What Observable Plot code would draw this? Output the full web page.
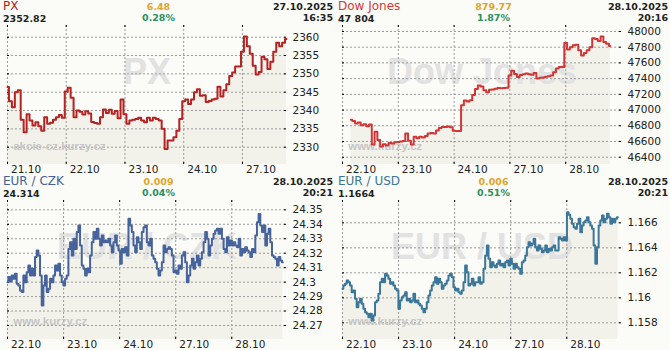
<!DOCTYPE html>
<html><head><meta charset="utf-8">
<script src="https://cdn.jsdelivr.net/npm/d3@7"></script>
<script src="https://cdn.jsdelivr.net/npm/@observablehq/plot@0.6"></script>
<style>
html,body{margin:0;padding:0;background:#fbfbf7;}
#grid{display:grid;grid-template-columns:335px 335px;grid-template-rows:175px 175px;width:670px;height:350px;}
.panel{position:relative;width:335px;height:175px;overflow:hidden;}
.panel svg{position:absolute;left:0;top:0;}
.hd{position:absolute;font-family:"DejaVu Sans";white-space:nowrap;line-height:1;}
.name{left:3px;top:0.4px;font-size:12px;line-height:12px;}
.last{left:3px;top:13.6px;font-size:9.5px;font-weight:bold;color:#222;}
.chg{left:0;width:317px;text-align:center;top:2px;font-size:9.5px;font-weight:bold;color:#e0a42a;}
.pct{left:0;width:317px;text-align:center;top:12.5px;font-size:9.5px;font-weight:bold;color:#2a9060;}
.date{right:2px;top:2px;font-size:9.5px;font-weight:bold;color:#222;}
.time{right:2px;top:12.5px;font-size:9.5px;font-weight:bold;color:#222;}
</style>
</head><body>
<div id="grid"></div>
<script>
// ---- data ----
const pxDays = ["21.10","22.10","23.10","24.10","27.10"];
const fxDays = ["22.10","23.10","24.10","27.10","28.10"];
const pxDayIdx = [0,20,40,60,80];
const djDayIdx = [0,20,40,60,80];
const fxDayIdx = [0,33.6,67.2,100.8,134.4];

const pxTicks = [2330,2335,2340,2345,2350,2355,2360];
const djTicks = [46400,46600,46800,47000,47200,47400,47600,47800,48000];
const czkTicks = [24.27,24.28,24.29,24.3,24.31,24.32,24.33,24.34,24.35];
const usdTicks = [1.158,1.16,1.162,1.164,1.166];

const pxValues = [2346.4,2342.5,2340.9,2345,2345.5,2337.5,2334.1,2339,2337.3,2335.9,
2336.8,2335.7,2334.5,2338.2,2336.4,2336.7,2337.5,2338.2,2338.8,2338,
2345.2,2346.2,2343.5,2338.2,2340,2339.7,2338.9,2339.8,2339.2,2336.9,
2336.6,2336.4,2338.2,2340.3,2339.3,2340.2,2339.1,2339.9,2337.9,2343,
2339,2336.4,2337.3,2337.5,2337.7,2338,2337.3,2336.8,2338,2337.3,
2338,2337.7,2337.3,2335,2329.5,2331.8,2331.8,2332.7,2334.5,2337.7,
2342.5,2343,2341.8,2343,2345,2345.8,2344,2344.2,2342.3,2342.6,
2343,2343.2,2346.5,2343.8,2345.5,2347.2,2349.4,2350.4,2352,2352,
2356,2360.2,2357.5,2355.5,2352.2,2349.8,2350.5,2354.7,2354,2351.3,
2353.3,2356,2358.5,2357.5,2358.5,2359.5];

const djStart = 3;
const djValues = [46875,46860,46830,46840,46805,46820,46795,46815,46560,46725,46620,46535,46565,46550,46582,46575,46590,
46593,46600,46605,46700,46610,46560,46660,46640,46660,46650,46670,46700,46708,46702,46740,46770,46784,46784,46792,46780,
46735,46733,46733,47060,47120,47110,47125,47190,47268,47312,47300,47252,47225,47259,47262,47270,47282,47276,47280,47284,
47441,47500,47460,47420,47445,47455,47465,47455,47450,47470,47400,47410,47415,47425,47430,47440,47480,47530,47547,47547,
47852,47770,47800,47825,47830,47760,47695,47725,47760,47800,47915,47905,47880,47936,47865,47845,47815];

const czkValues = [24.300,24.3035,24.3005,24.3046,24.3023,24.3058,24.2988,24.2977,24.2942,24.2931,
24.3046,24.300,24.3069,24.3115,24.3046,24.3092,24.3046,24.3173,24.3219,24.3184,
24.3046,24.2839,24.2977,24.3046,24.2931,24.2954,24.3023,24.300,24.3046,24.3115,
24.3081,24.3127,24.3046,24.300,24.2977,24.3023,24.3046,24.323,24.3276,24.3184,
24.330,24.323,24.3346,24.3392,24.3253,24.3115,24.3092,24.3046,24.3092,24.3069,
24.3184,24.3276,24.3346,24.330,24.3369,24.330,24.3253,24.3323,24.3276,24.3288,
24.3276,24.330,24.3253,24.3207,24.3276,24.3323,24.3253,24.3219,24.3127,24.323,
24.3207,24.3242,24.3184,24.3438,24.3392,24.3346,24.3253,24.3207,24.3311,24.3276,
24.323,24.3346,24.338,24.3392,24.3276,24.3253,24.330,24.3184,24.3161,24.3138,
24.3092,24.3046,24.3081,24.3138,24.3253,24.3207,24.323,24.3242,24.323,24.3184,
24.3069,24.3081,24.3058,24.3115,24.3092,24.3184,24.3207,24.3138,24.300,24.3046,
24.3115,24.3161,24.3092,24.3138,24.3184,24.3115,24.3161,24.3207,24.3276,24.3346,
24.330,24.3184,24.3253,24.330,24.3334,24.3357,24.3369,24.3334,24.3369,24.330,
24.323,24.3207,24.3311,24.3253,24.3288,24.3253,24.3276,24.3253,24.3242,24.330,
24.3184,24.323,24.3207,24.3242,24.3219,24.3207,24.3173,24.323,24.3207,24.3323,
24.3415,24.3472,24.3392,24.3346,24.3392,24.3253,24.3334,24.3369,24.3276,24.3184,
24.3173,24.3161,24.3115,24.3173,24.315,24.3138];

const usdValues = [1.16072,1.16099,1.16112,1.16139,1.16125,1.16099,1.16045,1.16059,1.15992,1.15925,
1.15965,1.15992,1.15952,1.15912,1.15885,1.15872,1.15845,1.15872,1.15819,1.15859,
1.15965,1.15979,1.16032,1.16125,1.16152,1.16125,1.16192,1.16179,1.16152,1.16112,
1.16125,1.16099,1.16072,1.16059,1.15912,1.15979,1.16005,1.16019,1.16045,1.15979,
1.15992,1.15965,1.15979,1.16032,1.15965,1.15979,1.15952,1.15939,1.15912,1.15885,
1.15912,1.15965,1.16019,1.16059,1.16099,1.16125,1.16165,1.16112,1.16152,1.16125,
1.16072,1.16099,1.16112,1.16139,1.16179,1.16192,1.16165,1.16085,1.16059,1.16072,
1.16045,1.16032,1.16059,1.16125,1.16259,1.16205,1.16099,1.16112,1.16152,1.16099,
1.16125,1.16125,1.16165,1.16112,1.16125,1.16232,1.16339,1.16419,1.16312,1.16245,
1.16285,1.16259,1.16245,1.16272,1.16299,1.16259,1.16272,1.16245,1.16285,1.16299,
1.16259,1.16312,1.16272,1.16232,1.16272,1.16245,1.16232,1.16192,1.16285,1.16299,
1.16339,1.16405,1.16445,1.16419,1.16432,1.16472,1.16405,1.16379,1.16419,1.16392,
1.16365,1.16379,1.16419,1.16365,1.16392,1.16379,1.16405,1.16419,1.16379,1.16379,
1.16485,1.16472,1.16459,1.16485,1.16459,1.16685,1.16664,1.16632,1.16592,1.16565,
1.16552,1.16592,1.16632,1.16525,1.16579,1.16605,1.16619,1.16645,1.16605,1.16579,
1.16552,1.16419,1.16272,1.16405,1.16579,1.16619,1.16659,1.16605,1.16632,1.16672,
1.16645,1.16592,1.16632,1.16605,1.16632,1.16645];

const panels = [
  {name:"PX", nameColor:"#b22222", last:"2352.82", chg:"6.48", pct:"0.28%", date:"27.10.2025", time:"16:35",
   values:pxValues, start:0, xMax:95, xTicks:pxDayIdx, xLabels:pxDays, yTicks:pxTicks, yDomain:[2325.28,2363.19],
   color:"#b52222", mark:"PX", source:"akcie-cz.kurzy.cz"},
  {name:"Dow Jones", nameColor:"#d23a3a", last:"47 804", chg:"879.77", pct:"1.87%", date:"28.10.2025", time:"20:16",
   values:djValues, start:djStart, xMax:100, xTicks:djDayIdx, xLabels:fxDays, yTicks:djTicks, yDomain:[46307,48076],
   color:"#d13636", mark:"Dow Jones", source:"www.kurzy.cz"},
  {name:"EUR / CZK", nameColor:"#44629a", last:"24.314", chg:"0.009", pct:"0.04%", date:"28.10.2025", time:"20:21",
   values:czkValues, start:0, xMax:167.2, xTicks:fxDayIdx, xLabels:fxDays, yTicks:czkTicks, yDomain:[24.26032,24.35646],
   color:"#46639b", mark:"EUR / CZK", source:"www.kurzy.cz"},
  {name:"EUR / USD", nameColor:"#3a7696", last:"1.1664", chg:"0.006", pct:"0.51%", date:"28.10.2025", time:"20:21",
   values:usdValues, start:0, xMax:167.2, xTicks:fxDayIdx, xLabels:fxDays, yTicks:usdTicks, yDomain:[1.156667,1.167787],
   color:"#3b7798", mark:"EUR / USD", source:"www.kurzy.cz"}
];

const grid = document.getElementById("grid");
const grey = "#9a9a9a";
for (const cfg of panels) {
  const data = cfg.values.map((v, k) => ({i: cfg.start + k, v}));
  const yMin = cfg.yDomain[0];
  const svg = Plot.plot({
    width: 335, height: 175,
    marginLeft: 7, marginRight: 49, marginTop: 25, marginBottom: 11,
    x: {domain: [0, cfg.xMax], axis: null, label: null},
    y: {domain: cfg.yDomain, axis: null, label: null},
    style: {background: "transparent", fontFamily: "DejaVu Sans", fontSize: "10.5px", color: "#222", overflow: "visible"},
    marks: [
      Plot.areaY(data, {x: "i", y1: yMin, y2: "v", fill: "#f2f2ea", curve: "step"}),
      Plot.text([cfg.mark], {frameAnchor: "middle", dy: -23, fontSize: 36, fontWeight: "bold", fontFamily: "Liberation Sans", fill: "#e2e2e2"}),
      Plot.ruleX(cfg.xTicks, {stroke: grey, strokeDasharray: "2,2"}),
      Plot.ruleY(cfg.yTicks, {stroke: grey, strokeDasharray: "2,2"}),
      Plot.ruleX(cfg.xTicks, {stroke: "#000", insetBottom: 137}),
      Plot.ruleX(cfg.xTicks, {stroke: "#000", insetTop: 137}),
      Plot.ruleY(cfg.yTicks, {stroke: "#000", insetRight: 277}),
      Plot.ruleY(cfg.yTicks, {stroke: "#000", insetLeft: 277}),
      Plot.text([cfg.source], {frameAnchor: "bottom-left", textAnchor: "start", dx: 5.7, dy: -14.4, fontSize: 11.5, fontWeight: "bold", fontFamily: "Liberation Sans", fill: "#c6c6c6"}),
      Plot.lineY(data, {x: "i", y: "v", stroke: cfg.color, strokeWidth: 2, curve: "step"}),
      Plot.axisY(cfg.yTicks, {anchor: "right", label: null, tickSize: 0, tickPadding: 6, tickFormat: d => String(d), fontSize: 10.5, fill: "#222"}),
      Plot.axisX(cfg.xTicks, {anchor: "bottom", label: null, tickSize: 0, tickPadding: 1, tickFormat: d => cfg.xLabels[cfg.xTicks.indexOf(d)], textAnchor: "start", dx: 3.5, fontSize: 10.5, fill: "#222"})
    ]
  });
  const div = document.createElement("div");
  div.className = "panel";
  div.appendChild(svg);
  const hd = [["name", cfg.name], ["last", cfg.last], ["chg", cfg.chg], ["pct", cfg.pct], ["date", cfg.date], ["time", cfg.time]];
  for (const [cls, txt] of hd) {
    const s = document.createElement("div");
    s.className = "hd " + cls;
    s.textContent = txt;
    if (cls === "name") s.style.color = cfg.nameColor;
    div.appendChild(s);
  }
  grid.appendChild(div);
}
</script>
</body></html>
